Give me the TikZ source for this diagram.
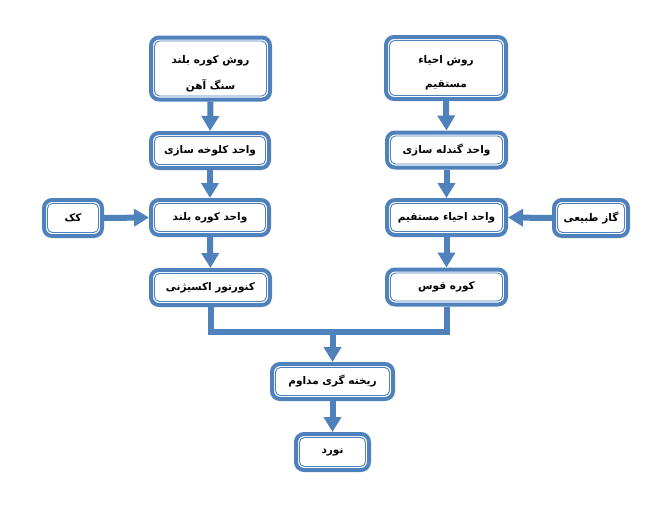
\documentclass[tikz,border=0pt]{standalone}
\usepackage{fontspec}
\newfontfamily\arabicfont[Script=Arabic]{DejaVu Sans}
\TeXXeTstate=1
\usetikzlibrary{arrows.meta}
\definecolor{bblue}{RGB}{79,129,189}
\newcommand{\fa}[1]{\beginR #1\endR}
\begin{document}
\begin{tikzpicture}[x=1pt,y=-1pt,
  box/.style={draw=bblue, line width=4pt, rounded corners=8pt, fill=white,
    inner sep=0pt, align=center, text=black,
    font=\arabicfont\bfseries\fontsize{10.5}{12.5}\selectfont,
    minimum height=35pt,
    path picture={\draw[bblue, line width=0.9pt, rounded corners=5pt]
      ([shift={(3.5pt,-3.5pt)}]path picture bounding box.north west) rectangle
      ([shift={(-3.5pt,3.5pt)}]path picture bounding box.south east);}},
  conn/.style={draw=bblue, line width=6pt, -{Triangle[width=17pt,length=15pt]}},
  link/.style={draw=bblue, line width=6pt},
]
\useasboundingbox (0,0) rectangle (670,525);
% left column
\node[box, minimum width=119pt, minimum height=62pt] (A1) at (210.5,68.5)
  {\rule{0pt}{18pt}\fa{روش کوره بلند}\\[12pt]\fa{سنگ آهن}};
\node[box, minimum width=118pt] (A2) at (210,150.5) {\fa{واحد کلوخه سازی}};
\node[box, minimum width=118pt] (A3) at (210,217.5) {\fa{واحد کوره بلند}};
\node[box, minimum width=119pt] (A4) at (210.5,287.5) {\fa{کنورتور اکسیژنی}};
\node[box, minimum width=58pt, minimum height=36pt] (K) at (73,218) {\fa{کک}};
% right column
\node[box, minimum width=120pt, minimum height=62pt] (B1) at (446,68)
  {\rule{0pt}{18pt}\fa{روش احیاء}\\[12pt]\fa{مستقیم}};
\node[box, minimum width=119pt] (B2) at (446.5,150) {\fa{واحد گندله سازی}};
\node[box, minimum width=119pt] (B3) at (446.5,217.5) {\fa{واحد احیاء مستقیم}};
\node[box, minimum width=119pt] (B4) at (446.5,287) {\fa{کوره قوس}};
\node[box, minimum width=74pt, minimum height=36pt] (G) at (591,218) {\fa{گاز طبیعی}};
% bottom
\node[box, minimum width=121pt] (C) at (332.5,381.5) {\fa{ریخته گری مداوم}};
\node[box, minimum width=73pt, minimum height=36pt] (D) at (332.5,452) {\fa{نورد}};
\coordinate (m) at (332.5,332);
% connectors
\draw[conn] (A1.south) -- (A2.north);
\draw[conn] (A2.south) -- (A3.north);
\draw[conn] (A3.south) -- (A4.north);
\draw[conn] (K.east) -- (A3.west);
\draw[conn] (B1.south) -- (B2.north);
\draw[conn] (B2.south) -- (B3.north);
\draw[conn] (B3.south) -- (B4.north);
\draw[conn] (G.west) -- (B3.east);
\draw[link] (A4.south) |- (m) -| (B4.south);
\draw[conn] (m) -- (C.north);
\draw[conn] (C.south) -- (D.north);
\end{tikzpicture}
\end{document}
